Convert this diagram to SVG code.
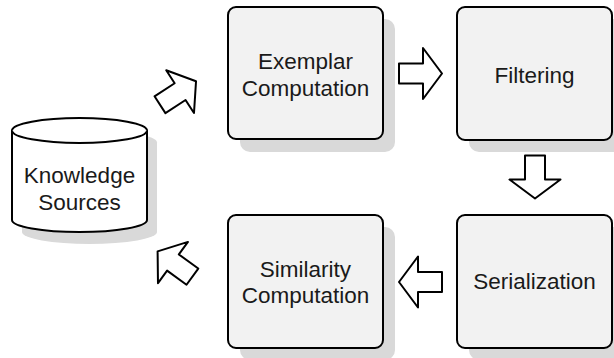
<svg xmlns="http://www.w3.org/2000/svg" width="614" height="358" viewBox="0 0 614 358">
<defs>
<style>
.shadow{fill:#d9d9d9;stroke:none}
.box{fill:#f2f2f2;stroke:#000;stroke-width:2}
.cyl{fill:#fff;stroke:#000;stroke-width:2}
.lbl{font-family:"Liberation Sans",Arial,sans-serif;font-size:22.5px;fill:#1a1a1a;text-anchor:middle}
.arr{fill:#fff;stroke:#000;stroke-width:2;stroke-linejoin:round}
</style>
<path id="blockArrow" d="M-21.5,-10 L2.5,-10 L2.5,-25.5 L21.5,0 L2.5,25.5 L2.5,10 L-21.5,10 Z"/>
</defs>
<rect width="614" height="358" fill="#fff"/>

<g id="knowledge-sources">
<path class="shadow" d="M22,142.5 A67.5,12.5 0 0 1 157,142.5 L157,232 A67.5,12 0 0 1 22,232 Z"/>
<path class="cyl" d="M12,130.5 A67.5,12.5 0 0 1 147,130.5 L147,220 A67.5,12 0 0 1 12,220 Z"/>
<path class="cyl" fill="none" d="M12,130.5 A67.5,12.5 0 0 0 147,130.5"/>
<text class="lbl" x="79.5" y="183">Knowledge</text>
<text class="lbl" x="79.5" y="210">Sources</text>
</g>

<g id="exemplar-computation">
<rect class="shadow" x="240" y="19" width="155" height="133" rx="10"/>
<rect class="box" x="228" y="7" width="155" height="132" rx="8"/>
<text class="lbl" x="305.5" y="69">Exemplar</text>
<text class="lbl" x="305.5" y="96">Computation</text>
</g>

<g id="filtering">
<rect class="shadow" x="469" y="19" width="155" height="133" rx="10"/>
<rect class="box" x="457" y="7" width="155" height="133" rx="8"/>
<text class="lbl" x="534.5" y="83">Filtering</text>
</g>

<g id="serialization">
<rect class="shadow" x="469" y="227" width="155" height="133" rx="10"/>
<rect class="box" x="457" y="215" width="155" height="133" rx="8"/>
<text class="lbl" x="534.5" y="289">Serialization</text>
</g>

<g id="similarity-computation">
<rect class="shadow" x="240" y="227" width="155" height="133" rx="10"/>
<rect class="box" x="228" y="215" width="155" height="133" rx="8"/>
<text class="lbl" x="305.5" y="277">Similarity</text>
<text class="lbl" x="305.5" y="303">Computation</text>
</g>

<g id="connectors">
<use class="arr" href="#blockArrow" transform="translate(178,93) rotate(-33)"/>
<use class="arr" href="#blockArrow" transform="translate(420.5,73.5)"/>
<use class="arr" href="#blockArrow" transform="translate(535,177) rotate(90)"/>
<use class="arr" href="#blockArrow" transform="translate(420.5,282) rotate(180)"/>
<use class="arr" href="#blockArrow" transform="translate(175,264) rotate(216)"/>
</g>
</svg>
